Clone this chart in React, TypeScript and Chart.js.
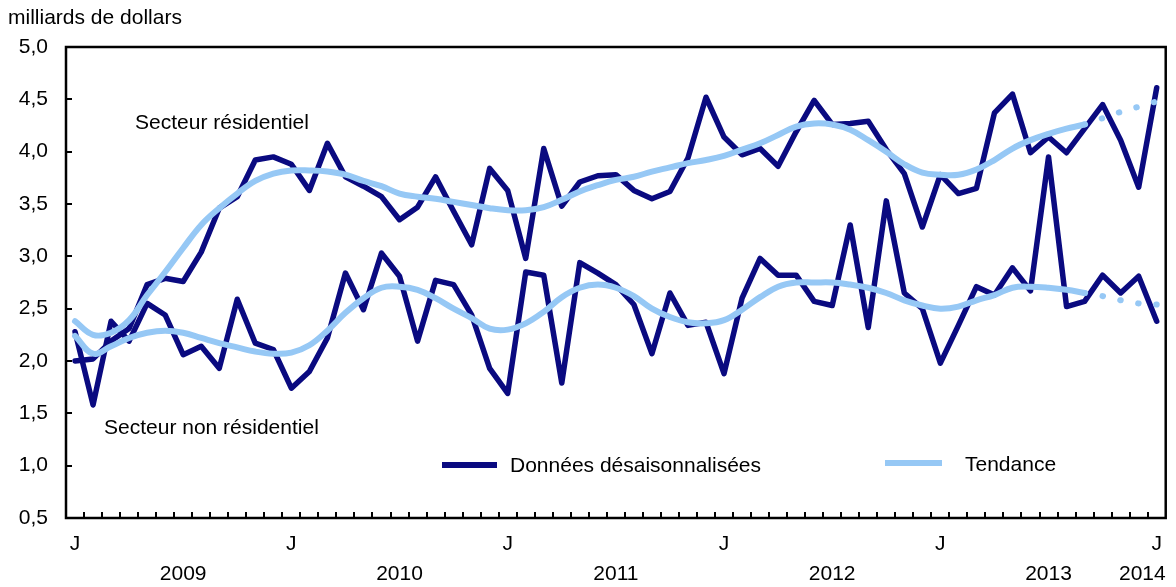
import React, { useEffect, useRef } from "react";
import { Chart, registerables } from "chart.js";

Chart.register(...registerables);

// ---- Data ----
const categories = [
  "2009-01","2009-02","2009-03","2009-04","2009-05","2009-06","2009-07","2009-08","2009-09","2009-10","2009-11","2009-12",
  "2010-01","2010-02","2010-03","2010-04","2010-05","2010-06","2010-07","2010-08","2010-09","2010-10","2010-11","2010-12",
  "2011-01","2011-02","2011-03","2011-04","2011-05","2011-06","2011-07","2011-08","2011-09","2011-10","2011-11","2011-12",
  "2012-01","2012-02","2012-03","2012-04","2012-05","2012-06","2012-07","2012-08","2012-09","2012-10","2012-11","2012-12",
  "2013-01","2013-02","2013-03","2013-04","2013-05","2013-06","2013-07","2013-08","2013-09","2013-10","2013-11","2013-12",
  "2014-01",
];

const residentialRaw = [
  2.00, 2.02, 2.19, 2.31, 2.73, 2.79, 2.76, 3.04, 3.46, 3.57, 3.92, 3.95,
  3.88, 3.63, 4.08, 3.76, 3.67, 3.57, 3.35, 3.47, 3.76, 3.43, 3.11, 3.84,
  3.63, 2.98, 4.03, 3.48, 3.71, 3.77, 3.78, 3.63, 3.55, 3.62, 3.94, 4.52,
  4.14, 3.97, 4.03, 3.86, 4.19, 4.49, 4.26, 4.27, 4.29, 4.02, 3.79, 3.28,
  3.78, 3.60, 3.65, 4.37, 4.55, 3.99, 4.14, 3.99, 4.22, 4.45, 4.11, 3.66,
  4.61,
];

const residentialTrend = [
  2.38, 2.25, 2.27, 2.39, 2.63, 2.85, 3.08, 3.30, 3.46, 3.60, 3.72, 3.79,
  3.82, 3.82, 3.81, 3.78, 3.72, 3.67, 3.60, 3.57, 3.55, 3.52, 3.49, 3.46,
  3.44, 3.44, 3.47, 3.54, 3.62, 3.68, 3.73, 3.76, 3.81, 3.85, 3.89, 3.92,
  3.96, 4.02, 4.08, 4.16, 4.24, 4.27, 4.26, 4.21, 4.11, 4.00, 3.88, 3.80,
  3.78, 3.78, 3.83, 3.92, 4.03, 4.11, 4.17, 4.22, 4.26, 4.32, 4.38, 4.43,
  4.48,
];

const nonResidentialRaw = [
  2.28, 1.58, 2.38, 2.19, 2.55, 2.44, 2.06, 2.14, 1.93, 2.59, 2.17, 2.11,
  1.74, 1.90, 2.22, 2.84, 2.49, 3.03, 2.81, 2.19, 2.77, 2.73, 2.44, 1.93,
  1.69, 2.85, 2.82, 1.79, 2.94, 2.84, 2.73, 2.54, 2.07, 2.65, 2.34, 2.37,
  1.88, 2.60, 2.98, 2.82, 2.82, 2.57, 2.53, 3.30, 2.32, 3.53, 2.65, 2.50,
  1.98, 2.34, 2.71, 2.63, 2.89, 2.67, 3.95, 2.52, 2.57, 2.82, 2.65, 2.81,
  2.38,
];

const nonResidentialTrend = [
  2.24, 2.07, 2.14, 2.22, 2.27, 2.29, 2.27, 2.22, 2.17, 2.13, 2.09, 2.07,
  2.08, 2.15, 2.29, 2.46, 2.60, 2.70, 2.71, 2.68, 2.60, 2.50, 2.41, 2.31,
  2.30, 2.36, 2.47, 2.61, 2.70, 2.73, 2.70, 2.62, 2.50, 2.42, 2.37, 2.36,
  2.39, 2.49, 2.61, 2.71, 2.75, 2.75, 2.75, 2.73, 2.70, 2.65, 2.58, 2.53,
  2.50, 2.52, 2.58, 2.63, 2.70, 2.71, 2.70, 2.68, 2.65, 2.62, 2.58, 2.55,
  2.54,
];

const yearLabels = ["2009", "2010", "2011", "2012", "2013", "2014"];
const januaryLabel = "J";
const unitLabel = "milliards de dollars";
const residentialLabel = "Secteur résidentiel";
const nonResidentialLabel = "Secteur non résidentiel";
const rawLegend = "Données désaisonnalisées";
const trendLegend = "Tendance";
const provisionalFromIndex = 56;

// ---- Styles ----
const DARK = "#0a0a80";
const LIGHT = "#96c8f5";
const FONT = '"Liberation Sans", Arial, Helvetica, sans-serif';
const FONT_SIZE = 21;

const decorPlugin = {
  id: "decor",
  afterDraw(chart: any) {
    const { ctx, chartArea: a, scales } = chart;
    const xs = scales.x;
    const ys = scales.y;
    ctx.save();
    ctx.strokeStyle = "#000";
    ctx.lineWidth = 2;
    ctx.lineCap = "butt";
    // x tick marks between months (inward)
    for (let i = 0; i < categories.length - 1; i++) {
      const bx = Math.round((xs.getPixelForValue(i) + xs.getPixelForValue(i + 1)) / 2);
      ctx.beginPath();
      ctx.moveTo(bx, a.bottom);
      ctx.lineTo(bx, a.bottom - 6);
      ctx.stroke();
    }
    // y tick marks (inward)
    ys.ticks.forEach((t: any) => {
      const y = Math.round(ys.getPixelForValue(t.value));
      ctx.beginPath();
      ctx.moveTo(a.left, y);
      ctx.lineTo(a.left + 6, y);
      ctx.stroke();
    });
    // frame
    ctx.lineWidth = 2.5;
    ctx.strokeRect(a.left, a.top, a.right - a.left, a.bottom - a.top);

    // texts
    ctx.fillStyle = "#000";
    ctx.font = `${FONT_SIZE}px ${FONT}`;
    ctx.textBaseline = "alphabetic";
    ctx.textAlign = "left";
    ctx.fillText(unitLabel, 8, 24);
    ctx.fillText(residentialLabel, 135, 129);
    ctx.fillText(nonResidentialLabel, 104, 434);

    // year labels centred between Januaries
    ctx.textBaseline = "middle";
    yearLabels.forEach((yr, k) => {
      const i0 = k * 12;
      if (i0 + 12 < categories.length) {
        const cx = (xs.getPixelForValue(i0) + xs.getPixelForValue(i0 + 12)) / 2;
        ctx.textAlign = "center";
        ctx.fillText(yr, cx, 574);
      } else {
        ctx.textAlign = "right";
        ctx.fillText(yr, a.right, 574);
      }
    });

    // legend
    ctx.lineWidth = 6;
    ctx.strokeStyle = DARK;
    ctx.beginPath();
    ctx.moveTo(442, 465);
    ctx.lineTo(497, 465);
    ctx.stroke();
    ctx.strokeStyle = LIGHT;
    ctx.beginPath();
    ctx.moveTo(885, 463);
    ctx.lineTo(942, 463);
    ctx.stroke();
    ctx.textAlign = "left";
    ctx.textBaseline = "alphabetic";
    ctx.fillText(rawLegend, 510, 472);
    ctx.fillText(trendLegend, 965, 471);
    ctx.restore();
  },
};

const provisionalDash = (c: any) =>
  c.p0DataIndex >= provisionalFromIndex ? [0.5, 17.7] : undefined;

export default function App() {
  const canvasRef = useRef<HTMLCanvasElement | null>(null);

  useEffect(() => {
    if (!canvasRef.current) return;
    const rawStyle = {
      borderColor: DARK,
      borderWidth: 5.5,
      pointRadius: 0,
      tension: 0,
      fill: false,
      borderJoinStyle: "round" as const,
      borderCapStyle: "round" as const,
      order: 2,
    };
    const trendStyle = {
      borderColor: LIGHT,
      borderWidth: 6,
      pointRadius: 0,
      tension: 0.4,
      fill: false,
      borderCapStyle: "round" as const,
      order: 1,
      segment: { borderDash: provisionalDash },
    };
    const chart = new Chart(canvasRef.current, {
      type: "line",
      data: {
        labels: categories,
        datasets: [
          { label: "Résidentiel - " + rawLegend, data: residentialRaw, ...rawStyle },
          { label: "Non résidentiel - " + rawLegend, data: nonResidentialRaw, ...rawStyle },
          { label: "Résidentiel - " + trendLegend, data: residentialTrend, ...trendStyle },
          { label: "Non résidentiel - " + trendLegend, data: nonResidentialTrend, ...trendStyle },
        ],
      },
      options: {
        animation: false,
        responsive: false,
        devicePixelRatio: 1,
        layout: { padding: { top: 47, right: 6, left: 0, bottom: 0 } },
        plugins: { legend: { display: false }, tooltip: { enabled: false } },
        scales: {
          x: {
            type: "category",
            offset: true,
            grid: { display: false, drawTicks: false, offset: true },
            border: { display: false },
            ticks: {
              autoSkip: false,
              maxRotation: 0,
              minRotation: 0,
              padding: 14,
              color: "#000",
              font: { family: FONT, size: FONT_SIZE },
              callback: (_v: any, i: number) => (i % 12 === 0 ? januaryLabel : ""),
            },
            afterFit: (s: any) => {
              s.height = 69;
            },
          },
          y: {
            min: 0.5,
            max: 5,
            grid: { display: false, drawTicks: false },
            border: { display: false },
            ticks: {
              stepSize: 0.5,
              padding: 18,
              color: "#000",
              font: { family: FONT, size: FONT_SIZE },
              callback: (v: any) => Number(v).toFixed(1).replace(".", ","),
            },
            afterFit: (s: any) => {
              s.width = 66;
            },
          },
        },
      },
      plugins: [decorPlugin],
    });
    return () => chart.destroy();
  }, []);

  return (
    <div style={{ position: "fixed", left: 0, top: 0, width: 1176, height: 587, background: "#fff" }}>
      <canvas ref={canvasRef} width={1176} height={587} style={{ display: "block" }} />
    </div>
  );
}
